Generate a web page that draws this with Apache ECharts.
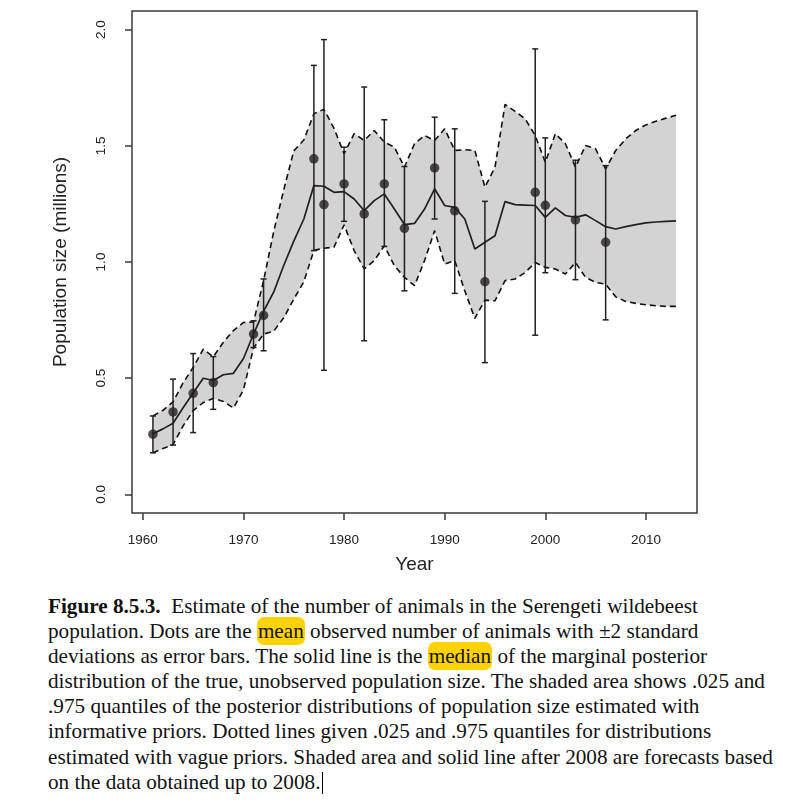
<!DOCTYPE html>
<html><head><meta charset="utf-8">
<script src="https://cdn.jsdelivr.net/npm/echarts@6/dist/echarts.min.js"></script>
<style>
html,body{margin:0;padding:0;background:#fff;}
#wrap{position:relative;width:792px;height:806px;overflow:hidden;background:#fff;}
#chart{position:absolute;left:0;top:0;width:792px;height:590px;}
#caption{position:absolute;left:48px;top:594px;width:744px;font-family:"Liberation Serif","Times New Roman",serif;font-size:21.2px;line-height:25.1px;color:#111;white-space:nowrap;}
.hl{background:#ffd200;border-radius:7px;padding:2px 1px;}
.cur{display:inline-block;width:1px;height:22px;background:#000;vertical-align:-5px;margin-left:2px;}
</style>
</head><body>
<div id="wrap">
<div id="chart"></div>
<div id="caption"><b>Figure 8.5.3.</b>&nbsp; Estimate of the number of animals in the Serengeti wildebeest<br>population. Dots are the <span class="hl">mean</span> observed number of animals with &plusmn;2 standard<br>deviations as error bars. The solid line is the <span class="hl">median</span> of the marginal posterior<br>distribution of the true, unobserved population size. The shaded area shows .025 and<br>.975 quantiles of the posterior distributions of population size estimated with<br>informative priors. Dotted lines given .025 and .975 quantiles for distributions<br>estimated with vague priors. Shaded area and solid line after 2008 are forecasts based<br>on the data obtained up to 2008.<span class="cur"></span></div>
</div>
<script>
// Years of the posterior estimates
const years = [1961,1962,1963,1964,1965,1966,1967,1968,1969,1970,1971,1972,1973,1974,1975,1976,1977,1978,1979,1980,
  1981,1982,1983,1984,1985,1986,1987,1988,1989,1990,1991,1992,1993,1994,1995,1996,1997,1998,1999,2000,
  2001,2002,2003,2004,2005,2006,2007,2008,2009,2010,2011,2012,2013];
// Posterior median (solid line)
const median = [0.261,0.282,0.306,0.373,0.436,0.500,0.490,0.515,0.521,0.585,0.690,0.788,0.870,0.985,1.090,1.185,1.329,1.326,1.300,1.303,
  1.271,1.221,1.264,1.293,1.228,1.161,1.166,1.228,1.315,1.243,1.235,1.185,1.056,1.085,1.113,1.260,1.247,1.245,1.243,1.192,
  1.233,1.200,1.192,1.203,1.178,1.152,1.142,1.152,1.161,1.168,1.172,1.175,1.177];
// .975 quantile (upper band edge / dashed)
const upper = [0.338,0.362,0.398,0.480,0.546,0.625,0.592,0.655,0.705,0.740,0.742,0.920,1.130,1.310,1.478,1.525,1.638,1.657,1.575,1.466,
  1.552,1.523,1.566,1.516,1.494,1.408,1.509,1.544,1.523,1.573,1.480,1.483,1.480,1.322,1.408,1.678,1.648,1.616,1.544,1.429,
  1.552,1.509,1.408,1.501,1.487,1.401,1.480,1.530,1.566,1.590,1.606,1.619,1.631];
// .025 quantile (lower band edge / dashed)
const lower = [0.179,0.198,0.214,0.295,0.360,0.395,0.413,0.400,0.372,0.450,0.630,0.690,0.702,0.760,0.840,0.915,1.050,1.059,1.064,1.160,
  1.049,0.970,1.006,1.070,0.984,0.934,0.898,1.006,1.135,0.991,1.006,0.876,0.757,0.836,0.833,0.920,0.927,0.955,0.998,0.977,
  0.970,0.948,0.998,0.934,0.912,0.905,0.850,0.830,0.822,0.816,0.812,0.809,0.809];
// Observed surveys: mean and +/-2 sd
const obsYears = [1961,1963,1965,1967,1971,1972,1977,1978,1980,1982,1984,1986,1989,1991,1994,1999,2000,2003,2006];
const obsMean  = [0.259,0.355,0.435,0.481,0.690,0.770,1.444,1.247,1.336,1.207,1.336,1.145,1.405,1.220,0.915,1.300,1.244,1.181,1.085];
const obsLow   = [0.179,0.2125,0.266,0.366,0.632,0.618,1.049,0.534,1.175,0.661,1.067,0.876,1.185,0.865,0.567,0.685,0.954,0.924,0.751];
const obsHigh  = [0.3375,0.496,0.606,0.593,0.747,0.927,1.846,1.957,1.494,1.753,1.612,1.411,1.623,1.573,1.261,1.917,1.534,1.438,1.415];
// Tick labels
const xTicks = [1960,1970,1980,1990,2000,2010];
const yTicks = [0,0.5,1,1.5,2];

const INK = '#231f20';
const chart = echarts.init(document.getElementById('chart'), null, {renderer:'canvas'});
const axisFont = {fontFamily:'Liberation Sans, Arial, sans-serif', fontSize:13.5, color:'#222'};
const option = {
  animation:false,
  backgroundColor:'#fff',
  grid:{left:132, top:11, width:565, height:502, show:true, borderColor:'#3a3a3a', borderWidth:1.5, backgroundColor:'transparent'},
  xAxis:{type:'value', min:1958.92, max:2015.08,
    name:'Year', nameLocation:'middle', nameGap:42,
    nameTextStyle:{fontFamily:'Liberation Sans, Arial, sans-serif', fontSize:19, color:'#222'},
    axisLine:{show:false, onZero:false}, splitLine:{show:false},
    axisTick:{show:true, customValues:xTicks, length:7, lineStyle:{color:'#3a3a3a', width:1.5}},
    axisLabel:Object.assign({customValues:xTicks, margin:20, formatter:v=>String(v)}, axisFont)},
  yAxis:{type:'value', min:-0.08, max:2.08,
    name:'Population size (millions)', nameLocation:'middle', nameGap:62, nameRotate:90,
    nameTextStyle:{fontFamily:'Liberation Sans, Arial, sans-serif', fontSize:19, color:'#222'},
    axisLine:{show:false, onZero:false}, splitLine:{show:false},
    axisTick:{show:true, customValues:yTicks, length:7, lineStyle:{color:'#3a3a3a', width:1.5}},
    axisLabel:Object.assign({customValues:yTicks, margin:24, rotate:90, formatter:v=>v.toFixed(1)}, axisFont)},
  series:[
    {type:'custom', name:'band', z:1, silent:true,
      data: years.map((y,i)=>[y, lower[i], upper[i]]),
      renderItem:(params, api)=>{
        if (params.dataIndex !== 0) return null;
        const pts = [];
        for (let i=0;i<years.length;i++) pts.push(api.coord([years[i], upper[i]]));
        for (let i=years.length-1;i>=0;i--) pts.push(api.coord([years[i], lower[i]]));
        return {type:'polygon', shape:{points:pts}, style:{fill:'#d3d3d3', stroke:null}};
      }},
    {type:'line', name:'upper', z:3, symbol:'none', silent:true,
      data: years.map((y,i)=>[y, upper[i]]),
      lineStyle:{color:'#111', width:1.6, type:[6,4]}},
    {type:'line', name:'lower', z:3, symbol:'none', silent:true,
      data: years.map((y,i)=>[y, lower[i]]),
      lineStyle:{color:'#111', width:1.6, type:[6,4]}},
    {type:'line', name:'median', z:4, symbol:'none', silent:true,
      data: years.map((y,i)=>[y, median[i]]),
      lineStyle:{color:INK, width:1.7}},
    {type:'custom', name:'errbars', z:5, silent:true,
      data: obsYears.map((y,i)=>[y, obsLow[i], obsHigh[i]]),
      renderItem:(params, api)=>{
        const lo = api.coord([api.value(0), api.value(1)]);
        const hi = api.coord([api.value(0), api.value(2)]);
        const cw = 3;
        const st = {stroke:INK, lineWidth:1.5};
        return {type:'group', children:[
          {type:'line', shape:{x1:lo[0], y1:lo[1], x2:hi[0], y2:hi[1]}, style:st},
          {type:'line', shape:{x1:lo[0]-cw, y1:lo[1], x2:lo[0]+cw, y2:lo[1]}, style:st},
          {type:'line', shape:{x1:hi[0]-cw, y1:hi[1], x2:hi[0]+cw, y2:hi[1]}, style:st}
        ]};
      }},
    {type:'scatter', name:'mean', z:6, silent:true, symbol:'circle', symbolSize:9.5,
      data: obsYears.map((y,i)=>[y, obsMean[i]]),
      itemStyle:{color:INK}}
  ]
};
chart.setOption(option);
</script>
</body></html>
